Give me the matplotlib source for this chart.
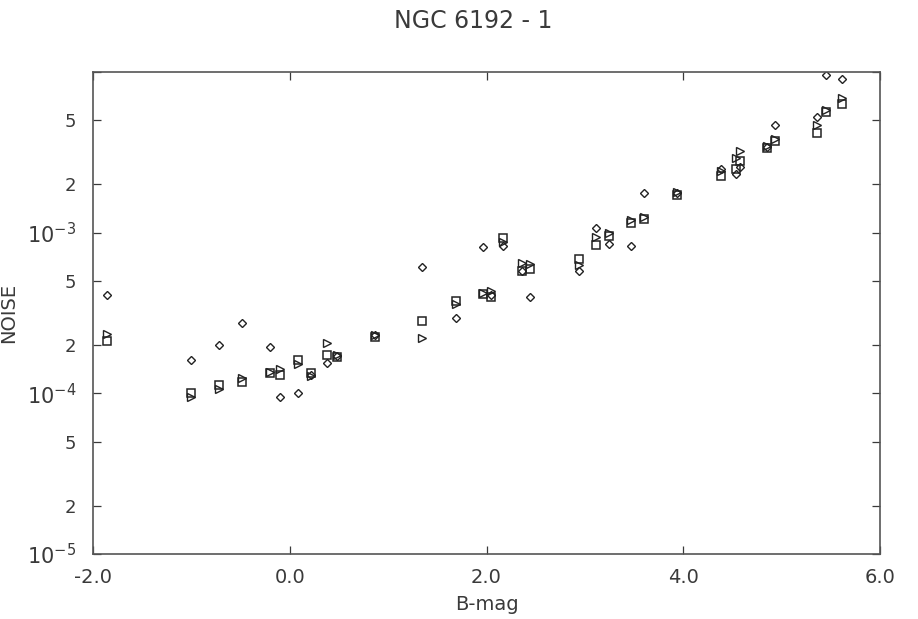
import matplotlib
matplotlib.use("Agg")
import matplotlib.pyplot as plt
from matplotlib.ticker import LogLocator, FixedLocator, FixedFormatter, FuncFormatter

plt.rcParams["font.family"] = ["DejaVu Sans"]
plt.rcParams["axes.unicode_minus"] = False

# B magnitude of each star
bmag = [-1.85, -1.00, -0.72, -0.48, -0.20, -0.10, 0.08, 0.22, 0.38, 0.48,
        0.87, 1.34, 1.69, 1.96, 2.05, 2.17, 2.36, 2.44, 2.94, 3.11,
        3.24, 3.47, 3.60, 3.93, 4.38, 4.53, 4.57, 4.85, 4.93, 5.36,
        5.45, 5.61]

# noise estimates, three methods
noise_diamond = [4.1e-4, 1.62e-4, 2.0e-4, 2.75e-4, 1.95e-4, 9.5e-5, 1.0e-4, 1.3e-4, 1.55e-4, 1.7e-4,
                 2.3e-4, 6.1e-4, 2.95e-4, 8.1e-4, 4.1e-4, 8.2e-4, 5.8e-4, 4.0e-4, 5.8e-4, 1.07e-3,
                 8.5e-4, 8.2e-4, 1.75e-3, 1.75e-3, 2.5e-3, 2.3e-3, 2.55e-3, 3.4e-3, 4.7e-3, 5.2e-3,
                 9.5e-3, 9.0e-3]
noise_square = [2.1e-4, 1.0e-4, 1.12e-4, 1.17e-4, 1.33e-4, 1.3e-4, 1.6e-4, 1.34e-4, 1.72e-4, 1.68e-4,
                2.25e-4, 2.8e-4, 3.75e-4, 4.15e-4, 3.95e-4, 9.2e-4, 5.8e-4, 5.9e-4, 6.8e-4, 8.4e-4,
                9.5e-4, 1.15e-3, 1.22e-3, 1.72e-3, 2.25e-3, 2.5e-3, 2.8e-3, 3.35e-3, 3.7e-3, 4.15e-3,
                5.65e-3, 6.35e-3]
noise_triangle = [2.35e-4, 9.5e-5, 1.07e-4, 1.24e-4, 1.35e-4, 1.42e-4, 1.52e-4, 1.28e-4, 2.05e-4, 1.72e-4,
                  2.3e-4, 2.2e-4, 3.6e-4, 4.2e-4, 4.3e-4, 8.7e-4, 6.5e-4, 6.4e-4, 6.3e-4, 9.4e-4,
                  1.0e-3, 1.2e-3, 1.25e-3, 1.8e-3, 2.4e-3, 2.9e-3, 3.2e-3, 3.45e-3, 3.8e-3, 4.7e-3,
                  5.8e-3, 6.9e-3]

xticks = [-2.0, 0.0, 2.0, 4.0, 6.0]

ink = "#3a3a3a"

fig = plt.figure(figsize=(9.18, 6.19), dpi=100)
ax = fig.add_axes([0.101, 0.105, 0.858, 0.779])

ax.plot(bmag, noise_diamond, linestyle="none", marker="D", markersize=4.5,
        markerfacecolor="none", markeredgecolor="#222222", markeredgewidth=1.0)
ax.plot(bmag, noise_square, linestyle="none", marker="s", markersize=6,
        markerfacecolor="none", markeredgecolor="#222222", markeredgewidth=1.1)
ax.plot(bmag, noise_triangle, linestyle="none", marker=">", markersize=5.5,
        markerfacecolor="none", markeredgecolor="#222222", markeredgewidth=1.0)

ax.set_yscale("log")
ax.set_xlim(-2.0, 6.0)
ax.set_ylim(1e-5, 1e-2)

ax.xaxis.set_major_locator(FixedLocator(xticks))
ax.xaxis.set_major_formatter(FuncFormatter(lambda v, p: f"{v:.1f}"))

ax.yaxis.set_major_locator(LogLocator(base=10, numticks=10))
ax.yaxis.set_minor_locator(LogLocator(base=10, subs=(2.0, 5.0), numticks=10))
ax.yaxis.set_major_formatter(FuncFormatter(
    lambda v, p: r"$10^{%d}$" % round(__import__("math").log10(v)) if v < 9e-3 else ""))
ax.yaxis.set_minor_formatter(FuncFormatter(
    lambda v, p: "%d" % round(v / 10 ** __import__("math").floor(__import__("math").log10(v)))))

ax.tick_params(axis="both", which="both", direction="in", top=True, right=True,
               color=ink, width=0.9, labelcolor=ink)
ax.tick_params(axis="x", which="major", length=6, labelsize=14, pad=10)
ax.tick_params(axis="y", which="major", length=6, labelsize=15, pad=12)
ax.tick_params(axis="y", which="minor", length=6, labelsize=13, pad=12)
ax.tick_params(axis="x", which="minor", bottom=False, top=False)

for s in ax.spines.values():
    s.set_color("#555555")
    s.set_linewidth(1.2)

ax.set_xlabel("B-mag", fontsize=14, color=ink, labelpad=6)
ax.set_ylabel("NOISE", fontsize=14, color=ink, labelpad=6)
fig.suptitle("NGC 6192 - 1", fontsize=17, color=ink, x=0.515, y=0.985)

fig.savefig("out.png", dpi=100)
